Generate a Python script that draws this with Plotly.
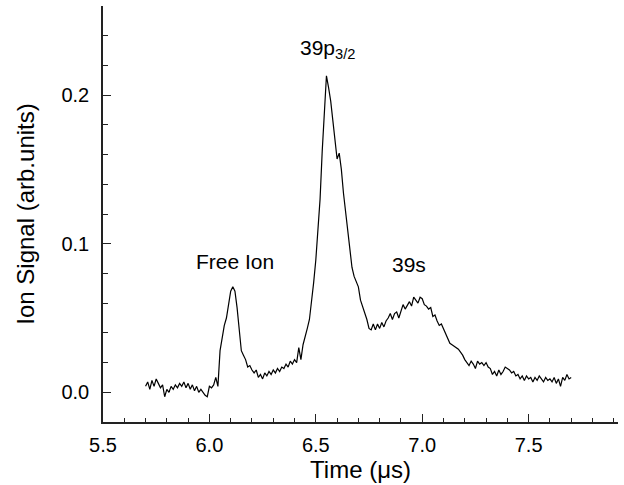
import plotly.graph_objects as go

# Time axis: first sample and sampling step (µs)
t_start = 5.70
t_step = 0.01

# Ion signal (arb. units), one value per 0.01 µs from 5.70 to 7.70 µs
signal = [
    # 5.70 - 5.79
    0.004, 0.007, 0.002, 0.008, 0.004, 0.009, 0.006, 0.003, 0.005, -0.003,
    # 5.80 - 5.89
    0.002, 0.000, 0.004, 0.002, 0.005, 0.003, 0.006, 0.004, 0.007, 0.003,
    # 5.90 - 5.99
    0.006, 0.002, 0.005, 0.001, 0.004, 0.000, 0.002, 0.000, -0.002, -0.003,
    # 6.00 - 6.09
    0.004, 0.003, 0.005, 0.010, 0.004, 0.028, 0.037, 0.045, 0.050, 0.060,
    # 6.10 - 6.19
    0.068, 0.071, 0.068, 0.057, 0.043, 0.028, 0.025, 0.022, 0.017, 0.018,
    # 6.20 - 6.29
    0.015, 0.013, 0.015, 0.010, 0.012, 0.009, 0.013, 0.011, 0.014, 0.012,
    # 6.30 - 6.39
    0.015, 0.013, 0.016, 0.014, 0.017, 0.016, 0.019, 0.017, 0.021, 0.019,
    # 6.40 - 6.49
    0.022, 0.020, 0.030, 0.022, 0.032, 0.037, 0.043, 0.049, 0.060, 0.074,
    # 6.50 - 6.59
    0.089, 0.108, 0.130, 0.162, 0.190, 0.213, 0.205, 0.196, 0.183, 0.170,
    # 6.60 - 6.69
    0.157, 0.161, 0.150, 0.134, 0.121, 0.106, 0.095, 0.084, 0.078, 0.074,
    # 6.70 - 6.79
    0.071, 0.062, 0.058, 0.053, 0.049, 0.043, 0.042, 0.046, 0.042, 0.046,
    # 6.80 - 6.89
    0.043, 0.047, 0.044, 0.048, 0.050, 0.053, 0.049, 0.053, 0.054, 0.050,
    # 6.90 - 6.99
    0.055, 0.059, 0.056, 0.059, 0.061, 0.058, 0.064, 0.062, 0.060, 0.064,
    # 7.00 - 7.09
    0.063, 0.059, 0.058, 0.056, 0.057, 0.051, 0.052, 0.048, 0.045, 0.046,
    # 7.10 - 7.19
    0.043, 0.040, 0.036, 0.033, 0.032, 0.031, 0.030, 0.029, 0.027, 0.025,
    # 7.20 - 7.29
    0.022, 0.020, 0.018, 0.021, 0.019, 0.016, 0.021, 0.019, 0.020, 0.018,
    # 7.30 - 7.39
    0.020, 0.017, 0.016, 0.012, 0.014, 0.011, 0.015, 0.012, 0.014, 0.017,
    # 7.40 - 7.49
    0.016, 0.015, 0.013, 0.014, 0.011, 0.012, 0.009, 0.011, 0.008, 0.011,
    # 7.50 - 7.59
    0.009, 0.010, 0.007, 0.010, 0.008, 0.011, 0.009, 0.007, 0.010, 0.008,
    # 7.60 - 7.70
    0.009, 0.007, 0.010, 0.006, 0.009, 0.004, 0.010, 0.008, 0.012, 0.009, 0.010,
]

# Peak labels
label_text = ["Free Ion", "39p<sub>3/2</sub>", "39s"]
label_x = [6.12, 6.555, 6.94]
label_y = [0.088, 0.231, 0.086]

x_range = [5.5, 7.92]
y_range = [-0.02, 0.26]
x_ticks = [5.5, 6.0, 6.5, 7.0, 7.5]
x_ticktext = ["5.5", "6.0", "6.5", "7.0", "7.5"]
y_ticks = [0.0, 0.1, 0.2]
y_ticktext = ["0.0", "0.1", "0.2"]

FONT = "Liberation Sans, Arial, sans-serif"

fig = go.Figure()
fig.add_trace(go.Scatter(
    x0=t_start, dx=t_step, y=signal,
    mode="lines",
    line=dict(color="black", width=1.2),
    showlegend=False,
))

for txt, lx, ly in zip(label_text, label_x, label_y):
    fig.add_annotation(x=lx, y=ly, text=txt, showarrow=False,
                       font=dict(family=FONT, size=21, color="black"))

fig.update_layout(
    width=624, height=485,
    margin=dict(l=103, r=6, t=6, b=63),
    paper_bgcolor="white", plot_bgcolor="white",
    font=dict(family=FONT, color="black"),
)

fig.update_xaxes(
    range=x_range, showgrid=False, zeroline=False, automargin=False,
    showline=True, linecolor="#222222", linewidth=1.5,
    ticks="inside", ticklen=8, tickwidth=1.2, tickcolor="#222222",
    tickvals=x_ticks, ticktext=x_ticktext,
    tickfont=dict(family=FONT, size=20, color="black"),
    ticklabelstandoff=4,
    minor=dict(ticks="inside", ticklen=4, tickwidth=1.2, tickcolor="#222222", dtick=0.1, showgrid=False),
    title=dict(text="Time (μs)", font=dict(family=FONT, size=24, color="black"), standoff=0),
)
fig.update_yaxes(
    range=y_range, showgrid=False, zeroline=False, automargin=False,
    showline=True, linecolor="#222222", linewidth=1.5,
    ticks="inside", ticklen=8, tickwidth=1.2, tickcolor="#222222",
    tickvals=y_ticks, ticktext=y_ticktext,
    tickfont=dict(family=FONT, size=20, color="black"),
    ticklabelstandoff=8,
    minor=dict(ticks="inside", ticklen=5, tickwidth=1.2, tickcolor="#222222", dtick=0.02, tick0=0, showgrid=False),
    title=dict(text="Ion Signal (arb.units)", font=dict(family=FONT, size=24, color="black"), standoff=20),
)

fig.write_html(
    "out.html",
    config={"displayModeBar": False},
    post_script="document.body.style.margin='0';document.body.style.overflow='hidden';",
)
